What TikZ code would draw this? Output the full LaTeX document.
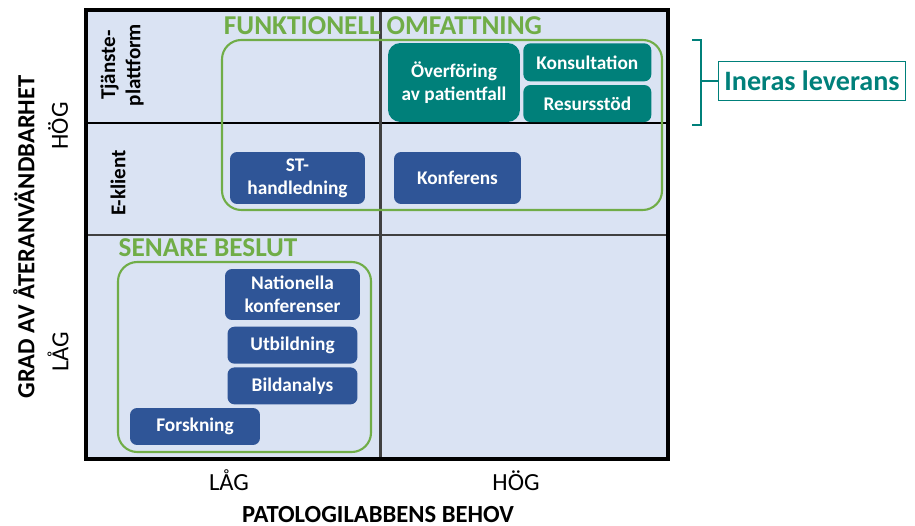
\documentclass[tikz,border=0pt]{standalone}
\usepackage{fontspec}
\setmainfont{Carlito}
\usepackage{tikz}
\usetikzlibrary{positioning,calc}
\definecolor{qfill}{RGB}{218,227,243}
\definecolor{qblue}{RGB}{47,85,151}
\definecolor{qteal}{RGB}{0,128,122}
\definecolor{qgreen}{RGB}{112,173,71}
\definecolor{qgrey}{RGB}{64,64,64}
\tikzstyle{itembox} = [rectangle, rounded corners=4pt, text=white, align=center, inner sep=0pt, font=\bfseries\fontsize{11}{13}\selectfont]
\tikzstyle{bluebox} = [itembox, fill=qblue]
\tikzstyle{tealbox} = [itembox, fill=qteal]
\tikzstyle{groupframe} = [draw=qgreen, line width=1.2pt, rounded corners=11pt]
\tikzstyle{grouptitle} = [anchor=base, text=qgreen, font=\bfseries\fontsize{15.5}{17}\selectfont, inner sep=0pt]
\tikzstyle{rowlabel} = [rotate=90, align=center, font=\bfseries\fontsize{12}{14.5}\selectfont]
\tikzstyle{axistitle} = [font=\bfseries\fontsize{14}{16}\selectfont]
\tikzstyle{axisvalue} = [font=\fontsize{14}{16}\selectfont]

\begin{document}
\begin{tikzpicture}[x=0.02cm, y=-0.02cm]
\useasboundingbox (0,0) rectangle (915,526);
% Quadrants
\fill[qfill] (86,10) rectangle (668,459);
\draw[line width=0.8pt] (86,123) -- (668,123);
\draw[qgrey, line width=1.7pt] (380,10) -- (380,459);
\draw[qgrey, line width=1.7pt] (86,235) -- (668,235);
\draw[line width=2.3pt] (86,10) rectangle (668,459);

% Row labels
\node[rowlabel] (plattform) at (122,65) {Tjänste-\\plattform};
\node[rowlabel] (eklient) at (118,183) {E-klient};

% Functional scope
\draw[groupframe] (222,40) rectangle (662,210);
\node[grouptitle] (funk) at (383,35) {FUNKTIONELL OMFATTNING};
\node[tealbox, rounded corners=7pt, minimum width=2.64cm, minimum height=1.58cm] (overforing) at (454,82.5) {Överföring\\av patientfall};
\node[tealbox, minimum width=2.56cm, minimum height=0.76cm, anchor=north west] (konsultation) at (523,43) {Konsultation};
\node[tealbox, minimum width=2.56cm, minimum height=0.74cm, below=0.06cm of konsultation] (resursstod) {Resursstöd};
\node[bluebox, minimum width=2.7cm, minimum height=1.04cm] (sthandledning) at (297.5,178) {ST-\\handledning};
\node[bluebox, minimum width=2.54cm, minimum height=1.04cm] (konferens) at (457.5,178) {Konferens};

% Later decision
\draw[groupframe] (118,262) rectangle (371,452);
\node[grouptitle] (senare) at (208,257) {SENARE BESLUT};
\node[bluebox, minimum width=2.7cm, minimum height=1.02cm] (nationella) at (292.5,294.5) {Nationella\\konferenser};
\node[bluebox, minimum width=2.6cm, minimum height=0.74cm, below=0.12cm of nationella] (utbildning) {Utbildning};
\node[bluebox, minimum width=2.6cm, minimum height=0.74cm, below=0.06cm of utbildning] (bildanalys) {Bildanalys};
\node[bluebox, minimum width=2.6cm, minimum height=0.74cm] (forskning) at (195,426.5) {Forskning};

% Inera delivery
\node[draw=qteal, line width=0.6pt, text=qteal, minimum width=3.7cm, minimum height=0.78cm, font=\bfseries\fontsize{16}{18}\selectfont] (ineras) at (812,81) {Ineras leverans};
\coordinate (brtop) at (701,40);
\coordinate (brbot) at (701,125);
\draw[qteal, line width=1.2pt] ($(brtop)+(-9,0)$) -- (brtop) -- (brbot) -- ($(brbot)+(-9,0)$);
\draw[qteal, line width=1.2pt] (ineras.west -| brtop) -- (ineras.west);

% Axes
\node[axistitle, rotate=90] (yaxis) at (24,237) {GRAD AV ÅTERANVÄNDBARHET};
\node[axisvalue, rotate=90] (yhog) at (58,126) {HÖG};
\node[axisvalue, rotate=90] (ylag) at (58,352) {LÅG};
\node[axisvalue, anchor=base, inner sep=0pt] (xlag) at (229,490) {LÅG};
\node[axisvalue, anchor=base, inner sep=0pt] (xhog) at (516,490) {HÖG};
\node[axistitle, anchor=base, inner sep=0pt] (xaxis) at (378,522) {PATOLOGILABBENS BEHOV};
\end{tikzpicture}
\end{document}
